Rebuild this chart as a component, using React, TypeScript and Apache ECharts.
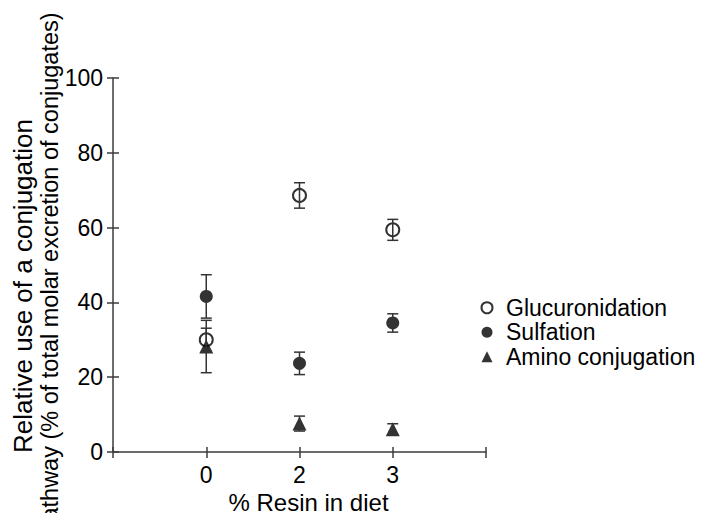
import React, { useEffect, useRef } from 'react';
import * as echarts from 'echarts';

const categories = ['0', '2', '3'];
const seriesNames = ['Glucuronidation', 'Sulfation', 'Amino conjugation'];
const glucMean = [30.0, 68.6, 59.4];
const glucErr = [3.1, 3.4, 2.8];
const sulfMean = [41.6, 23.7, 34.5];
const sulfErr = [5.8, 3.0, 2.45];
const aminoMean = [28.2, 7.6, 6.1];
const aminoErr = [7.0, 2.0, 1.45];
const yMin = 0;
const yMax = 100;
const yStep = 20;
const yTitleLine1 = 'Relative use of a conjugation';
const yTitleLine2 = 'pathway (% of total molar excretion of conjugates)';

const FONT = "'Liberation Sans', Arial, Helvetica, sans-serif";
const AXIS_COLOR = '#3c3c3c';

export default function App() {
  const ref = useRef<HTMLDivElement>(null);
  useEffect(() => {
    document.body.style.margin = '0';
    const chart = echarts.init(ref.current!, undefined, { renderer: 'svg' });
    const means = [glucMean, sulfMean, aminoMean];
    const errs = [glucErr, sulfErr, aminoErr];
    const symbols = ['emptyCircle', 'circle', 'triangle'];

    const scatterSeries = seriesNames.map((name, s) => ({
      name,
      type: 'scatter',
      symbol: symbols[s],
      symbolSize: s === 2 ? 14 : 13,
      xAxisIndex: 0,
      yAxisIndex: 0,
      z: 2 + s,
      itemStyle: s === 0
        ? { color: '#000', borderColor: '#000', borderWidth: 1.6 }
        : { color: '#000' },
      data: categories.map((_, i) => [i, means[s][i]]),
    }));

    const errSeries = seriesNames.map((name, s) => ({
      name: name + ' error',
      type: 'custom',
      xAxisIndex: 0,
      yAxisIndex: 0,
      z: 10,
      silent: true,
      data: categories.map((_, i) => [i, means[s][i], errs[s][i]]),
      renderItem: (params: any, api: any) => {
        const x = api.value(0);
        const m = api.value(1);
        const e = api.value(2);
        const top = api.coord([x, m + e]);
        const bot = api.coord([x, m - e]);
        const hw = 5.5;
        const style = { stroke: '#333', lineWidth: 1.5 };
        return {
          type: 'group',
          children: [
            { type: 'line', shape: { x1: top[0], y1: top[1], x2: bot[0], y2: bot[1] }, style },
            { type: 'line', shape: { x1: top[0] - hw, y1: top[1], x2: top[0] + hw, y2: top[1] }, style },
            { type: 'line', shape: { x1: bot[0] - hw, y1: bot[1], x2: bot[0] + hw, y2: bot[1] }, style },
          ],
        };
      },
    }));

    const xLabel = (v: number) => {
      const idx = Math.round(v);
      return idx >= 0 && idx < categories.length ? categories[idx] : '';
    };

    chart.setOption({
      animation: false,
      backgroundColor: '#fff',
      textStyle: { fontFamily: FONT },
      grid: { left: 113, top: 78, width: 373, height: 374, containLabel: false, outerBoundsMode: 'none' },
      xAxis: [
        {
          type: 'value',
          min: -1,
          max: 3,
          interval: 1,
          position: 'bottom',
          splitLine: { show: false },
          axisLine: { onZero: false, lineStyle: { color: AXIS_COLOR, width: 1.5 } },
          axisTick: { length: 6, lineStyle: { color: AXIS_COLOR, width: 1.5 } },
          axisLabel: { formatter: xLabel, color: '#000', fontSize: 23, margin: 11, fontFamily: FONT },
          name: '% Resin in diet',
          nameLocation: 'middle',
          nameGap: 36,
          nameTextStyle: { color: '#000', fontSize: 24, lineHeight: 20, fontFamily: FONT, padding: [0, 0, 0, 18] },
        },
        {
          type: 'value',
          min: -1,
          max: 3,
          interval: 1,
          position: 'bottom',
          splitLine: { show: false },
          axisLine: { show: false, onZero: false },
          axisTick: { inside: true, length: 5, lineStyle: { color: AXIS_COLOR, width: 1.5 } },
          axisLabel: { show: false },
        },
      ],
      yAxis: [
        {
          type: 'value',
          min: yMin,
          max: yMax,
          interval: yStep,
          position: 'left',
          splitLine: { show: false },
          axisLine: { onZero: false, lineStyle: { color: AXIS_COLOR, width: 1.5 } },
          axisTick: { length: 6, lineStyle: { color: AXIS_COLOR, width: 1.5 } },
          axisLabel: { color: '#000', fontSize: 23, margin: 10, fontFamily: FONT },
        },
        {
          type: 'value',
          min: yMin,
          max: yMax,
          interval: yStep,
          position: 'left',
          splitLine: { show: false },
          axisLine: { show: false, onZero: false },
          axisTick: { inside: true, length: 6, lineStyle: { color: AXIS_COLOR, width: 1.5 } },
          axisLabel: { show: false },
        },
      ],
      legend: {
        data: seriesNames,
        orient: 'vertical',
        left: 480.5,
        top: 295.5,
        padding: 0,
        itemWidth: 11,
        itemHeight: 11,
        itemGap: 0,
        selectedMode: false,
        textStyle: { color: '#000', fontSize: 23, fontFamily: FONT, lineHeight: 24.5, padding: [0, 0, 0, 8.5] },
      },
      graphic: [
        {
          type: 'text',
          x: 22.5,
          y: 286,
          rotation: Math.PI / 2,
          style: {
            text: yTitleLine1,
            align: 'center',
            verticalAlign: 'middle',
            fill: '#000',
            font: `26px ${FONT}`,
          },
        },
        {
          type: 'text',
          x: 50,
          y: 273,
          rotation: Math.PI / 2,
          style: {
            text: yTitleLine2,
            align: 'center',
            verticalAlign: 'middle',
            fill: '#000',
            font: `23.5px ${FONT}`,
          },
        },
      ],
      series: [...scatterSeries, ...errSeries],
    });
    return () => chart.dispose();
  }, []);
  return <div ref={ref} style={{ width: 710, height: 513 }} />;
}
